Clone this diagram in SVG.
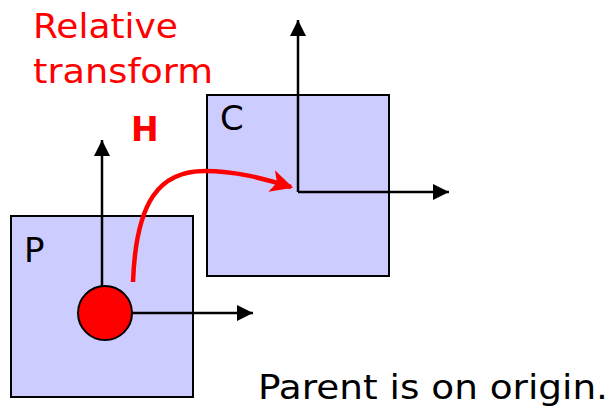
<svg xmlns="http://www.w3.org/2000/svg" width="613" height="409" viewBox="0 0 613 409">
<style>
.box{fill:#ccccff;stroke:#000;stroke-width:2}
.ax{fill:none;stroke:#000;stroke-width:2.5}
.lbl{font-family:"DejaVu Sans",Verdana,sans-serif;font-size:34px;fill:#000}
.red{font-family:"DejaVu Sans",Verdana,sans-serif;fill:#ff0000}
</style>
<defs>
<marker id="ah" viewBox="0 0 10 10" refX="10" refY="5" markerWidth="6.4" markerHeight="6.4" markerUnits="strokeWidth" orient="auto"><path d="M0,0 L10,5 L0,10 Z" fill="#000"/></marker>
<marker id="rh" viewBox="0 0 10 10" refX="9" refY="5" markerWidth="5" markerHeight="5" markerUnits="strokeWidth" orient="auto"><path d="M0,0 L10,5 L0,10 L2.5,5 Z" fill="#ff0000"/></marker>
</defs>
<g id="title"><text class="red" x="33" y="38" font-size="34" textLength="145" lengthAdjust="spacingAndGlyphs">Relative</text><text class="red" x="33" y="83" font-size="34" textLength="180" lengthAdjust="spacingAndGlyphs">transform</text></g>
<g id="H"><text class="red" x="131" y="141" font-size="33" font-weight="bold">H</text></g>
<g id="C"><rect class="box" x="207" y="95" width="182" height="181"/><text class="lbl" x="220" y="130">C</text></g>
<g id="P"><rect class="box" x="11" y="216" width="182" height="181"/><text class="lbl" x="24" y="262">P</text></g>
<g id="connectors">
<path class="ax" d="M298,192 V20" marker-end="url(#ah)"/>
<path class="ax" d="M298,192 H449" marker-end="url(#ah)"/>
<path class="ax" d="M102,290 V140" marker-end="url(#ah)"/>
<path class="ax" d="M130,313 H253" marker-end="url(#ah)"/>
<path d="M133,282 C136,200 160,171 205,171 C235,171 262,178 291,187" fill="none" stroke="#ff0000" stroke-width="4.5" marker-end="url(#rh)"/>
</g>
<g id="origin"><circle cx="105" cy="313" r="27" fill="#ff0000" stroke="#000" stroke-width="2"/></g>
<g id="note"><text class="lbl" x="258" y="399" font-size="33" textLength="350" lengthAdjust="spacingAndGlyphs">Parent is on origin.</text></g>
</svg>
